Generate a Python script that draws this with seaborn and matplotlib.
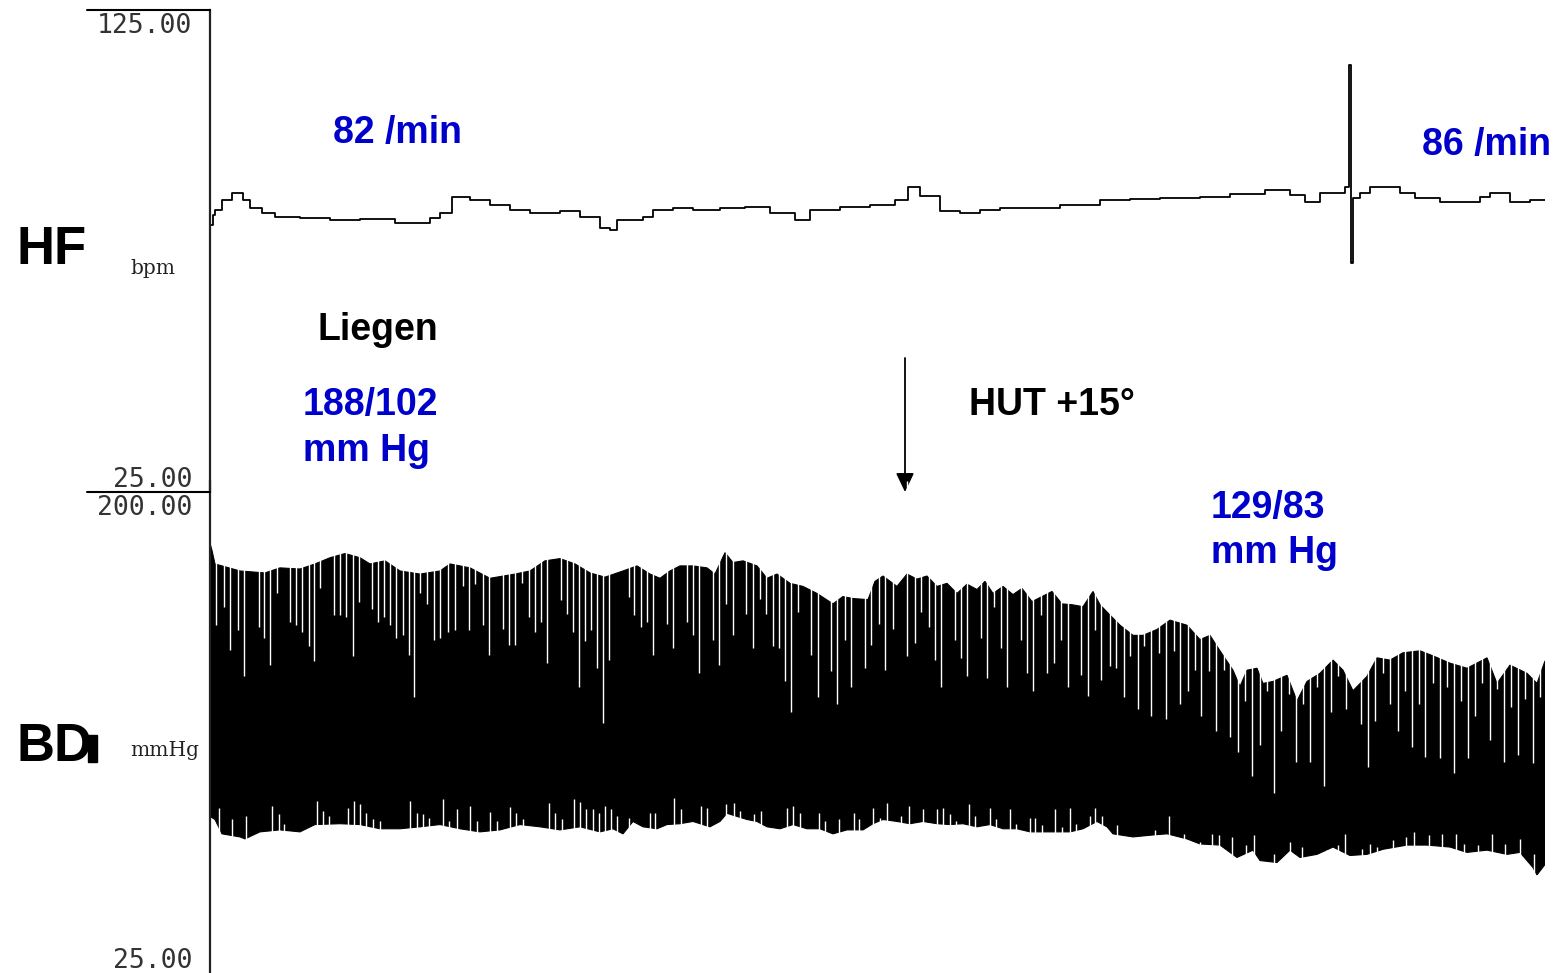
import numpy as np
import pandas as pd
import seaborn as sns
import matplotlib.pyplot as plt
from matplotlib.lines import Line2D
from matplotlib.patches import Rectangle

# Tilt-table recording: heart rate (HF) and beat-to-beat blood pressure (BD)
# time axis in seconds

# heart rate trace (bpm)
hr_t = [0, 0.6, 1, 2.4, 4.4, 6.6, 8, 10.4, 13, 18, 24, 30, 37, 40, 44, 46, 48.4, 52, 56, 60,
        64, 70, 74, 78, 80, 81.4, 86.6, 88.6, 92.6, 96.6, 102, 107, 112, 117, 120, 126, 132,
        137, 139.6, 142, 146, 150, 154, 158, 164, 170, 178, 184, 190, 198, 204, 211, 216, 219,
        222, 227, 227.8, 228.2, 228.6, 230, 232, 236, 238, 241, 246, 252, 254, 256, 260, 264, 267]
hr_bpm = [80.4, 82.5, 83.5, 85.6, 87.0, 85.6, 83.9, 82.9, 82.0, 81.8, 81.4, 81.6, 80.8, 80.8,
          81.8, 82.9, 86.2, 85.6, 84.5, 83.5, 82.9, 83.2, 82.0, 79.7, 79.3, 81.4, 82.0, 83.5,
          83.9, 83.5, 83.9, 84.2, 82.9, 81.4, 83.5, 84.2, 84.5, 85.6, 88.3, 86.5, 83.2, 82.9,
          83.5, 84.0, 83.9, 84.5, 85.6, 85.8, 86.0, 86.2, 86.8, 87.6, 86.6, 85.2, 87.0, 88.3,
          113.6, 72.5, 86.0, 87.0, 88.3, 88.3, 87.0, 86.0, 85.2, 85.2, 86.2, 87.0, 85.2, 85.6, 85.6]

# systolic envelope (mmHg)
sys_t = [0, 0.4, 1, 6, 11, 14, 18, 21, 24, 27, 30, 32, 35, 38, 42, 46, 48, 52, 56, 61, 64, 67,
         70, 73, 76, 79, 82.6, 85.4, 88, 90, 92, 94, 96.6, 99.4, 101, 103, 104.6, 106.6, 109.4,
         111.4, 113.4, 116, 118.6, 121.4, 124.6, 126.6, 128.6, 131.6, 133, 134.6, 137.4, 139.4,
         141.4, 143.4, 145.4, 147.4, 149.4, 151.4, 153.4, 155, 156.6, 158.6, 160.6, 162.4,
         164.4, 166.4, 168.4, 170.4, 172.4, 174.6, 176.6, 178, 180, 182, 184.6, 186.6, 189.4,
         192, 195.4, 198, 200, 202, 204.6, 206, 207.4, 209.4, 210.6, 212.6, 215.4, 217.4,
         219.4, 222, 224.6, 226.6, 228.6, 231.4, 233.4, 236, 238.6, 242, 244.6, 248, 251.4,
         255.4, 257.4, 260, 263.4, 265.4, 267]
sys_bp = [177.8, 175.3, 170.5, 168.0, 167.3, 169.1, 168.7, 170.5, 172.7, 174.2, 172.7, 170.5,
          171.6, 168.0, 166.9, 168.0, 170.5, 169.1, 165.4, 166.9, 168.0, 171.6, 172.4, 170.5,
          167.3, 165.8, 168.0, 169.8, 166.9, 165.4, 168.0, 169.8, 169.8, 169.1, 166.9, 174.5,
          171.0, 171.6, 169.8, 165.4, 166.9, 163.6, 162.5, 160.0, 156.3, 158.9, 158.2, 157.8,
          164.3, 166.2, 162.5, 166.9, 165.1, 166.2, 162.5, 163.6, 160.0, 163.3, 161.4, 164.3,
          160.0, 162.5, 159.6, 161.8, 157.1, 158.9, 160.7, 156.3, 156.0, 155.3, 160.7, 156.0,
          152.3, 148.7, 145.1, 145.1, 147.2, 150.5, 148.7, 143.6, 145.1, 139.6, 132.7, 126.9,
          132.7, 133.4, 128.0, 128.7, 130.9, 121.8, 128.7, 131.6, 136.3, 132.7, 125.4, 130.5,
          137.1, 136.3, 138.9, 139.6, 137.8, 135.2, 133.4, 137.1, 128.0, 134.5, 131.6, 128.0, 136.0]

# diastolic envelope (mmHg)
dia_t = [0, 1, 2.4, 6, 7, 10, 14, 18, 21, 26, 30, 34, 38, 42, 46, 50, 54, 58, 62, 66, 70, 74,
         78, 80.6, 82.6, 84.6, 86.6, 89.4, 91.4, 94, 96.6, 100, 102, 103.4, 105.4, 107.4, 109.4,
         111.4, 114, 116.6, 119.4, 122, 124.6, 127.4, 130.6, 132.6, 134.6, 137.4, 140, 142.6,
         145.4, 148, 150.6, 153.4, 156, 158.6, 161.4, 164, 166.6, 169.4, 172, 174.6, 177.4,
         179.4, 180.6, 184.6, 188.6, 191.4, 195.4, 198, 202, 205.4, 208.6, 210, 213.4, 216,
         218, 221.4, 224.6, 228, 231.4, 234.6, 239.4, 243.4, 248, 251.4, 255.4, 259.4, 262,
         264.6, 265.4, 267]
dia_bp = [80.7, 79.6, 74.5, 73.4, 72.7, 75.2, 75.9, 75.2, 77.8, 78.1, 77.8, 76.3, 76.3, 77.0,
          77.8, 76.3, 75.2, 75.9, 77.8, 77.0, 75.9, 77.0, 75.2, 76.3, 74.5, 78.9, 77.0, 76.3,
          77.8, 78.1, 78.9, 77.0, 78.9, 81.8, 80.7, 79.6, 78.9, 77.0, 76.3, 77.8, 76.3, 76.3,
          74.5, 75.9, 75.9, 78.1, 79.6, 78.9, 78.1, 78.9, 78.1, 77.8, 78.1, 77.0, 77.8, 76.3,
          76.3, 75.2, 75.2, 75.2, 75.2, 76.3, 78.9, 77.0, 74.5, 73.4, 74.1, 74.5, 72.7, 70.9,
          70.5, 66.1, 68.7, 65.0, 64.3, 68.7, 66.1, 67.2, 69.8, 66.8, 67.2, 69.0, 70.5, 70.5,
          69.8, 67.9, 68.7, 67.2, 67.9, 62.5, 59.9, 63.6]

# beat gaps reaching down from the systolic peaks (lowest pressure of the gap)
gap_top_t = [1.2, 2.8, 4.0, 5.5, 6.8, 9.7, 10.8, 12.0, 13.3, 16.0, 17.2, 18.4, 19.7, 20.8, 22.0,
             24.7, 25.9, 27.2, 28.5, 29.7, 32.3, 33.5, 34.7, 36.0, 37.2, 38.5, 39.7, 40.8, 42.0,
             43.3, 44.7, 46.0, 47.5, 48.9, 50.5, 51.7, 53.0, 54.5, 55.7, 58.5, 59.7, 60.9, 62.3,
             63.7, 65.0, 66.1, 67.3, 70.1, 71.3, 72.5, 73.7, 74.9, 76.1, 77.3, 78.5, 79.7, 83.7,
             84.8, 86.1, 87.3, 88.5, 91.3, 92.5, 95.3, 96.5, 97.7, 100.5, 101.7, 103.2, 104.5,
             107.2, 108.5, 109.9, 111.2, 112.5, 113.8, 115.0, 116.2, 117.5, 120.1, 121.5, 124.1,
             125.4, 126.9, 128.1, 131.0, 132.2, 133.8, 135.0, 136.5, 139.3, 140.9, 142.1, 143.7,
             145.0, 146.2, 149.0, 150.1, 151.3, 154.1, 155.3, 156.8, 158.2, 159.3, 162.1, 163.3,
             164.5, 166.1, 167.3, 168.7, 170.1, 171.5, 174.1, 175.5, 177.0, 178.1, 180.0, 181.2,
             182.7, 184.0, 185.5, 186.7, 188.2, 189.7, 191.1, 192.7, 193.9, 195.5, 196.9, 198.2,
             199.7, 201.1, 202.7, 204.0, 205.5, 206.9, 208.3, 209.9, 211.3, 212.7, 214.2, 215.7,
             217.1, 218.5, 219.9, 221.3, 222.7, 224.2, 225.5, 227.1, 228.7, 230.1, 231.5, 233.0,
             234.5, 236.0, 237.5, 238.9, 240.3, 241.7, 243.0, 244.5, 246.0, 247.3, 248.7, 250.1,
             251.5, 253.0, 254.3, 255.9, 257.3, 258.7, 260.1, 261.5, 263.0, 264.5, 265.9]
gap_top_bp = [148.7, 155.3, 140.0, 146.9, 130.5, 148.0, 144.3, 134.5, 160.0, 149.8, 148.7, 146.2,
              141.4, 136.0, 161.8, 152.3, 152.3, 151.6, 137.8, 157.1, 154.5, 149.8, 151.6, 148.7,
              144.3, 145.4, 138.2, 123.2, 160.0, 156.3, 143.6, 144.3, 146.2, 146.9, 162.5, 146.9,
              163.3, 148.7, 138.2, 147.2, 141.8, 141.8, 163.6, 151.6, 146.2, 149.8, 135.2, 157.8,
              152.7, 146.2, 126.9, 143.2, 146.9, 133.4, 114.1, 136.3, 158.9, 152.3, 148.0, 149.8,
              138.2, 149.1, 140.7, 149.8, 145.4, 131.6, 143.6, 134.5, 156.3, 145.4, 152.7, 140.7,
              158.2, 152.7, 141.4, 140.7, 128.7, 117.8, 153.4, 138.2, 123.2, 132.3, 120.7, 143.6,
              126.9, 133.4, 141.8, 149.1, 132.7, 147.2, 137.8, 142.5, 153.4, 148.0, 136.3, 126.9,
              143.6, 137.1, 130.5, 144.3, 129.8, 155.3, 140.7, 126.9, 143.6, 131.6, 125.4, 152.3,
              131.6, 135.2, 143.6, 126.9, 130.9, 123.6, 146.9, 129.1, 134.2, 133.4, 123.2, 137.8,
              118.9, 141.4, 116.3, 138.9, 115.2, 139.6, 120.7, 125.4, 132.7, 116.3, 132.3, 110.9,
              132.7, 109.1, 103.6, 121.8, 95.2, 106.1, 125.4, 89.0, 110.9, 124.3, 100.0, 120.7,
              100.0, 126.9, 91.6, 117.8, 130.5, 118.9, 130.5, 113.4, 98.1, 114.5, 131.6, 120.7,
              110.9, 125.4, 105.4, 120.7, 101.8, 128.0, 101.4, 126.9, 96.3, 121.8, 101.4, 116.3,
              128.0, 108.0, 126.1, 100.0, 119.6, 102.5, 122.5, 99.6, 123.2]

# beat gaps reaching up from the diastolic troughs (highest pressure of the gap)
gap_bot_t = [1.7, 4.3, 7.2, 12.3, 13.7, 14.8, 21.3, 22.5, 23.7, 27.5, 28.8, 30.0, 31.2, 32.5,
             33.9, 40.0, 41.3, 42.5, 43.7, 46.5, 47.8, 49.3, 52.0, 53.3, 56.0, 57.3, 60.0, 61.2,
             62.5, 67.7, 69.0, 70.3, 72.7, 73.9, 75.2, 76.5, 77.7, 79.0, 80.1, 81.3, 83.8, 87.9,
             89.0, 92.8, 94.1, 98.1, 99.3, 103.2, 104.8, 106.0, 108.8, 110.1, 115.3, 116.5,
             117.9, 121.7, 123.0, 125.7, 128.7, 129.7, 132.5, 133.9, 135.3, 138.1, 139.7, 142.5,
             145.3, 146.5, 147.9, 149.2, 151.8, 153.0, 155.9, 157.2, 159.9, 161.1, 163.9, 165.0,
             166.3, 169.0, 170.3, 171.9, 173.2, 175.9, 177.0, 178.3, 181.3, 189.0, 191.7, 194.7,
             197.9, 200.3, 201.7, 204.3, 207.2, 208.8, 212.7, 216.0, 218.3, 223.3, 225.5, 227.0,
             230.3, 231.9, 233.3, 236.5, 239.2, 240.8, 243.7, 246.3, 249.2, 250.7, 253.5, 256.3,
             259.0, 261.9, 264.7]
gap_bot_bp = [83.6, 79.6, 80.7, 84.3, 81.4, 78.1, 86.1, 82.5, 80.7, 83.6, 86.1, 85.0, 81.8, 79.6,
              78.9, 86.1, 81.8, 81.4, 80.0, 86.9, 78.9, 83.2, 84.3, 78.9, 82.1, 78.9, 83.9, 81.8,
              79.6, 85.4, 81.8, 79.6, 86.9, 85.8, 83.2, 83.2, 81.8, 84.3, 83.2, 80.7, 80.0, 81.8,
              81.8, 87.2, 83.2, 84.3, 83.6, 85.0, 85.4, 82.5, 81.4, 82.5, 83.6, 84.3, 81.8, 81.8,
              78.9, 79.6, 81.8, 79.6, 83.6, 80.0, 85.4, 80.7, 84.3, 83.2, 83.2, 83.6, 81.4, 78.9,
              85.0, 80.7, 83.6, 79.6, 83.2, 78.1, 80.0, 80.0, 77.8, 83.2, 77.0, 83.6, 78.1, 80.7,
              83.6, 80.7, 77.8, 75.9, 80.7, 74.5, 71.6, 74.5, 74.1, 73.4, 70.5, 74.1, 67.2, 71.6,
              69.8, 68.7, 70.5, 74.5, 69.0, 70.9, 69.8, 72.3, 73.4, 75.2, 74.1, 74.5, 74.5, 70.9,
              70.5, 74.5, 70.9, 72.7, 67.2]

tilt_t = 139  # start of head-up tilt

# scale limits of the two channels
hr_range = (25, 125)
bp_range = (25, 200)

hr = pd.DataFrame({"t": hr_t, "bpm": hr_bpm})

sns.set_style("white")
plt.rcParams["font.family"] = ["Liberation Sans", "DejaVu Sans"]
plt.rcParams["text.color"] = "black"

fig = plt.figure(figsize=(15.55, 9.73), dpi=100)
W, H = 1555, 973
ax_hr = fig.add_axes([210 / W, 1 - 492 / H, 1335 / W, 482 / H])
ax_bp = fig.add_axes([210 / W, 0, 1335 / W, 492 / H])

# ---- HF panel
sns.lineplot(data=hr, x="t", y="bpm", ax=ax_hr, color="black", lw=1.3,
             drawstyle="steps-post", estimator=None)
ax_hr.set_xlim(0, 267)
ax_hr.set_ylim(*hr_range)

# ---- BD panel
ax_bp.fill(np.concatenate([sys_t, dia_t[::-1]]), np.concatenate([sys_bp, dia_bp[::-1]]),
           color="black", lw=0.8, edgecolor="black")
ax_bp.vlines(gap_top_t, gap_top_bp, 200, colors="white", lw=1.0)
ax_bp.vlines(gap_bot_t, 25, gap_bot_bp, colors="white", lw=1.0)
ax_bp.set_xlim(0, 267)
ax_bp.set_ylim(*bp_range)

for ax in (ax_hr, ax_bp):
    sns.despine(ax=ax, top=True, right=True, bottom=True)
    ax.spines["left"].set_linewidth(1.6)
    ax.spines["left"].set_color("#222222")
    ax.set_xticks([])
    ax.set_yticks([])
    ax.set_xlabel("")
    ax.set_ylabel("")
    ax.patch.set_alpha(0)


def px(x, y):
    return x / W, 1 - y / H


# scale labels of the recorder, just inside each channel's limits
mono = dict(family="DejaVu Sans Mono", fontsize=19, color="#333333", ha="right", va="baseline")
fig.text(*px(192, 33), f"{hr_range[1]:.2f}", **mono)
fig.text(*px(192, 487), f"{hr_range[0]:.2f}", **mono)
fig.text(*px(192, 515), f"{bp_range[1]:.2f}", **mono)
fig.text(*px(192, 968), f"{bp_range[0]:.2f}", **mono)

# frame lines of the recorder display
fig.add_artist(Line2D([87 / W, 210 / W], [1 - 10 / H, 1 - 10 / H], color="black", lw=1.5))
fig.add_artist(Line2D([87 / W, 210 / W], [1 - 492 / H, 1 - 492 / H], color="black", lw=1.5))

# tilt arrow
ax_hr.annotate("", xy=(tilt_t, 25), xytext=(tilt_t, 52.8),
               arrowprops=dict(arrowstyle="-|>,head_length=1.15,head_width=0.55",
                               color="black", lw=1.3, shrinkA=0, shrinkB=0),
               annotation_clip=False)

# labels
blue = "#0000CC"
fig.text(*px(17, 250), "HF", fontsize=38, weight="bold", va="center", ha="left", color="black")
fig.text(*px(17, 747), "BD", fontsize=38, weight="bold", va="center", ha="left", color="black")
fig.add_artist(Rectangle(px(88, 762), 9 / W, 27 / H, color="black"))
fig.text(*px(130, 268), "bpm", family="DejaVu Serif", fontsize=14.5, va="center", color="#222222")
fig.text(*px(130, 750), "mmHg", family="DejaVu Serif", fontsize=14.5, va="center", color="#222222")

fig.text(*px(333, 133), "82 /min", fontsize=27, weight="bold", color=blue, va="center")
fig.text(*px(1422, 145), "86 /min", fontsize=27, weight="bold", color=blue, va="center")
fig.text(*px(318, 330), "Liegen", fontsize=27, weight="bold", color="black", va="center")
fig.text(*px(303, 405), "188/102", fontsize=27, weight="bold", color=blue, va="center")
fig.text(*px(303, 451), "mm Hg", fontsize=27, weight="bold", color=blue, va="center")
fig.text(*px(969, 405), "HUT +15°", fontsize=27, weight="bold", color="black", va="center")
fig.text(*px(1211, 508), "129/83", fontsize=27, weight="bold", color=blue, va="center")
fig.text(*px(1211, 553), "mm Hg", fontsize=27, weight="bold", color=blue, va="center")

fig.savefig("out.png", dpi=100)
